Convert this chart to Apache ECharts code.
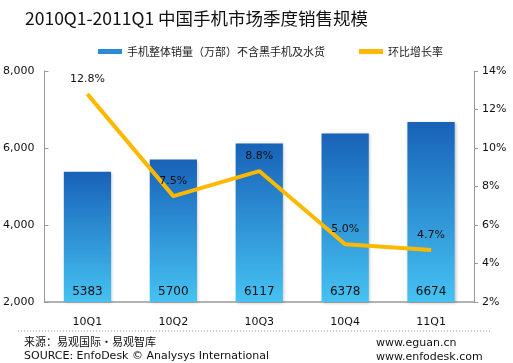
<!DOCTYPE html>
<html><head><meta charset="utf-8">
<script src="https://cdn.jsdelivr.net/npm/echarts@6/dist/echarts.min.js"></script>
<style>html,body{margin:0;padding:0;background:#fff}#c{width:513px;height:363px}</style>
</head><body><div id="c"></div>
<script>
var categories = ['10Q1','10Q2','10Q3','10Q4','11Q1'];
var sales = [5383, 5700, 6117, 6378, 6674];
var growth = [12.8, 7.5, 8.8, 5.0, 4.7];
var leftTicks = [2000, 8000, 2000];   // min, max, interval
var rightTicks = [2, 14, 2];
var titleText = '2010Q1-2011Q1 中国手机市场季度销售规模';
var barName = '手机整体销量（万部）不含黑手机及水货';
var lineName = '环比增长率';

var chart = echarts.init(document.getElementById('c'));
var fontLat = 'Tahoma, "DejaVu Sans", sans-serif';
var fontCJK = '"Noto Sans CJK SC", sans-serif';
chart.setOption({
  animation: false,
  title: {text: titleText, left: 20, top: 5, textStyle: {fontSize: 17.5, fontWeight: 'normal', color: '#111', fontFamily: fontCJK}},
  legend: {
    top: 41, left: 93, itemGap: 34, itemWidth: 24, itemHeight: 5,
    textStyle: {fontSize: 11, color: '#222', fontFamily: fontCJK},
    data: [
      {name: barName, icon: 'rect', itemStyle: {color: '#2a8ad6'}},
      {name: lineName, icon: 'rect', itemStyle: {color: '#FFB800'}}
    ]
  },
  grid: {left: 43, right: 39, top: 71, bottom: 61},
  xAxis: {
    type: 'category', data: categories,
    axisLine: {lineStyle: {color: '#999', width: 1.5}},
    axisTick: {show: false},
    axisLabel: {margin: 15, fontSize: 11, color: '#111', fontFamily: fontLat}
  },
  yAxis: [{
    type: 'value', min: leftTicks[0], max: leftTicks[1], interval: leftTicks[2],
    splitLine: {show: false},
    axisLine: {show: true, lineStyle: {color: '#999'}},
    axisTick: {show: true, inside: true, length: 4, lineStyle: {color: '#999'}},
    axisLabel: {margin: 10, fontSize: 11, color: '#111', fontFamily: fontLat,
      formatter: function (v) { return v.toLocaleString('en-US'); }},
    position: 'left'
  }, {
    type: 'value', min: rightTicks[0], max: rightTicks[1], interval: rightTicks[2],
    splitLine: {show: false},
    axisLine: {show: true, lineStyle: {color: '#999'}},
    axisTick: {show: true, length: 4, lineStyle: {color: '#999'}},
    axisLabel: {margin: 8, fontSize: 11, color: '#111', fontFamily: fontLat, formatter: '{value}%'},
    position: 'right'
  }],
  series: [{
    name: barName, type: 'bar', data: sales, barWidth: '55%',
    itemStyle: {
      color: new echarts.graphic.LinearGradient(0, 0, 0, 1, [
        {offset: 0, color: '#1862b8'}, {offset: 1, color: '#45c2f2'}]),
      shadowColor: 'rgba(0,0,0,0.25)', shadowBlur: 3, shadowOffsetX: 1, shadowOffsetY: 1
    },
    label: {show: true, position: 'insideBottom', distance: 4, fontSize: 12, color: '#111', fontFamily: fontLat}
  }, {
    name: lineName, type: 'line', yAxisIndex: 1, data: growth,
    symbol: 'circle', symbolSize: 1, showSymbol: true, z: 5,
    lineStyle: {color: '#FFB800', width: 4},
    itemStyle: {color: '#FFB800'},
    label: {show: true, position: 'top', distance: 9, fontSize: 11, color: '#111', fontFamily: fontLat,
      formatter: function (p) { return p.value.toFixed(1) + '%'; }}
  }],
  graphic: [
    {type: 'line', shape: {x1: 18, y1: 331, x2: 490, y2: 331}, style: {stroke: '#999', lineDash: [1, 2], lineWidth: 1}},
    {type: 'text', left: 24, top: 336, style: {text: '来源：易观国际·易观智库', fontSize: 11, fill: '#111', fontFamily: fontCJK}},
    {type: 'text', left: 24, top: 351, style: {text: 'SOURCE: EnfoDesk © Analysys International', fontSize: 11, fill: '#111', fontFamily: fontLat}},
    {type: 'text', left: 376, top: 338, style: {text: 'www.eguan.cn', fontSize: 11, fill: '#111', fontFamily: fontLat}},
    {type: 'text', left: 376, top: 352, style: {text: 'www.enfodesk.com', fontSize: 11, fill: '#111', fontFamily: fontLat}}
  ]
});
</script></body></html>
